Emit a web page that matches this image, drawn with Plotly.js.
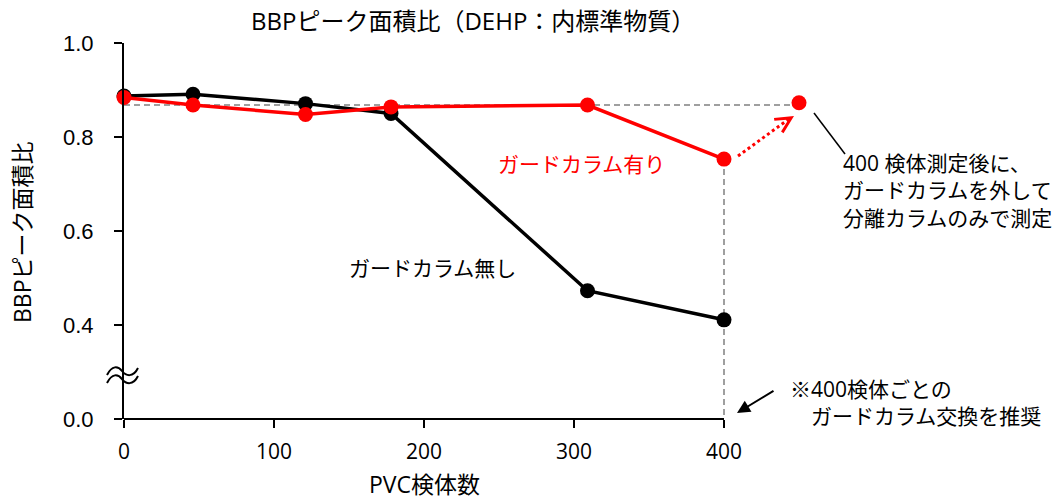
<!DOCTYPE html>
<html>
<head>
<meta charset="utf-8">
<script src="https://cdn.plot.ly/plotly-3.0.1.min.js"></script>
<style>html,body{margin:0;padding:0;background:#fff;}#chart{width:1060px;height:500px;}</style>
</head>
<body>
<div id="chart"></div>
<script>
// ---- data ----
const pvcCounts = [0, 46, 121, 178, 309, 400];
const ratioWithoutGuard = [0.887, 0.891, 0.871, 0.850, 0.473, 0.411];
const ratioWithGuard = [0.884, 0.868, 0.848, 0.864, 0.868, 0.753];
const removedGuardX = [450];
const removedGuardY = [0.873];
const referenceLevel = 0.868;
const xTickVals = [0, 100, 200, 300, 400];
const yTickVals = [0.2, 0.4, 0.6, 0.8, 1.0];
const yTickText = ['0.0', '0.4', '0.6', '0.8', '1.0'];

const titleText = 'BBPピーク面積比（DEHP：内標準物質）';
const yTitleText = 'BBPピーク面積比';
const xTitleText = 'PVC検体数';
const labelWith = 'ガードカラム有り';
const labelWithout = 'ガードカラム無し';
const noteRemoved = '400 検体測定後に、<br>ガードカラムを外して<br>分離カラムのみで測定';
const noteReplace = '※400検体ごとの<br>　ガードカラム交換を推奨';

// ---- geometry ----
const W = 1060, H = 500;
const M = {l: 124, r: 0, t: 43, b: 81};
const plotW = W - M.l - M.r, plotH = H - M.t - M.b;
const pxPerUnit = 1.5;
const xRange = [0, plotW / pxPerUnit], yRange = [0.2, 1.0];
const PX = p => (p - M.l) / plotW;
const PY = p => (H - M.b - p) / plotH;
const DX = v => (v - xRange[0]) / (xRange[1] - xRange[0]);
const DY = v => (v - yRange[0]) / (yRange[1] - yRange[0]);

const FONT = '"Open Sans", "Noto Sans CJK JP", sans-serif';
const JFONT = '"Noto Sans CJK JP", sans-serif';

function pixelPath(pts) {
  return pts.map(seg => {
    const nums = [];
    for (let i = 1; i < seg.length; i += 2) nums.push(PX(seg[i]).toFixed(5) + ',' + PY(seg[i + 1]).toFixed(5));
    return seg[0] + nums.join(' ');
  }).join(' ');
}

const traces = [
  {
    x: pvcCounts, y: ratioWithoutGuard, type: 'scatter', mode: 'lines+markers',
    line: {color: '#000000', width: 3.5}, marker: {color: '#000000', size: 15},
    cliponaxis: false, hoverinfo: 'skip'
  },
  {
    x: pvcCounts, y: ratioWithGuard, type: 'scatter', mode: 'lines+markers',
    line: {color: '#ff0000', width: 3.5}, marker: {color: '#ff0000', size: 15},
    cliponaxis: false, hoverinfo: 'skip'
  },
  {
    x: removedGuardX, y: removedGuardY, type: 'scatter', mode: 'markers',
    marker: {color: '#ff0000', size: 15}, cliponaxis: false, hoverinfo: 'skip'
  }
];

const lastX = pvcCounts[pvcCounts.length - 1];
const lastGuardY = ratioWithGuard[ratioWithGuard.length - 1];

const shapes = [
  // x axis baseline (0..400)
  {type: 'line', xref: 'paper', yref: 'paper', x0: DX(0), x1: DX(lastX), y0: 0, y1: 0,
   line: {color: '#000000', width: 2}},
  // horizontal dashed reference
  {type: 'line', xref: 'paper', yref: 'paper', x0: DX(0), x1: DX(removedGuardX[0]) - 0.008,
   y0: DY(referenceLevel), y1: DY(referenceLevel), line: {color: '#808080', width: 1.5, dash: '6px,4px'}, layer: 'below'},
  // vertical dashed at 400
  {type: 'line', xref: 'paper', yref: 'paper', x0: DX(lastX), x1: DX(lastX),
   y0: DY(lastGuardY), y1: DY(yRange[0]), line: {color: '#808080', width: 1.5, dash: '6px,4px'}, layer: 'below'},
  // red dotted shaft
  {type: 'line', xref: 'paper', yref: 'paper', x0: PX(738), y0: PY(156), x1: PX(789), y1: PY(119),
   line: {color: '#ff0000', width: 3, dash: 'dot'}},
  // leader line to note
  {type: 'line', xref: 'paper', yref: 'paper', x0: PX(814), y0: PY(113), x1: PX(845), y1: PY(154),
   line: {color: '#000000', width: 1.5}},
  // axis break marks
  {type: 'path', xref: 'paper', yref: 'paper',
   path: pixelPath([['M', 107, 375], ['C', 112, 365, 118, 366, 122, 371], ['S', 133, 378, 138, 368]]),
   line: {color: '#000000', width: 2}},
  {type: 'path', xref: 'paper', yref: 'paper',
   path: pixelPath([['M', 107, 383], ['C', 112, 373, 118, 374, 122, 379], ['S', 133, 386, 138, 376]]),
   line: {color: '#000000', width: 2}}
];

const annotations = [
  {text: titleText, xref: 'paper', yref: 'paper', x: PX(473), y: PY(21), xanchor: 'center', yanchor: 'middle',
   showarrow: false, font: {family: FONT, size: 24, color: '#000'}},
  {text: yTitleText, xref: 'paper', yref: 'paper', x: PX(22), y: PY(232), xanchor: 'center', yanchor: 'middle',
   textangle: -90, showarrow: false, font: {family: FONT, size: 23, color: '#000'}},
  {text: xTitleText, xref: 'paper', yref: 'paper', x: PX(424), y: PY(484), xanchor: 'center', yanchor: 'middle',
   showarrow: false, borderpad: 0, font: {family: FONT, size: 23, color: '#000'}},
  {text: labelWith, xref: 'paper', yref: 'paper', x: PX(581), y: PY(163), xanchor: 'center', yanchor: 'middle',
   showarrow: false, font: {family: JFONT, size: 21, color: '#ff0000'}},
  {text: labelWithout, xref: 'paper', yref: 'paper', x: PX(432), y: PY(267), xanchor: 'center', yanchor: 'middle',
   showarrow: false, font: {family: JFONT, size: 21, color: '#000'}},
  {text: noteRemoved, xref: 'paper', yref: 'paper', x: PX(841), y: PY(190), xanchor: 'left', yanchor: 'middle',
   align: 'left', showarrow: false, font: {family: FONT, size: 21, color: '#000'}},
  {text: noteReplace, xref: 'paper', yref: 'paper', x: PX(788), y: PY(402), xanchor: 'left', yanchor: 'middle',
   align: 'left', showarrow: false, font: {family: FONT, size: 21, color: '#000'}},
  // black arrow
  {text: '', xref: 'paper', yref: 'paper', x: PX(737), y: PY(413), ax: 38, ay: -23,
   showarrow: true, arrowhead: 2, arrowsize: 1.3, arrowwidth: 2, arrowcolor: '#000'},
  // red arrowhead
  {text: '', xref: 'paper', yref: 'paper', x: PX(794), y: PY(116), ax: -8, ay: 5,
   showarrow: true, arrowhead: 5, arrowsize: 1.2, arrowwidth: 2.5, arrowcolor: '#ff0000'}
];

const layout = {
  width: W, height: H, margin: M, paper_bgcolor: '#fff', plot_bgcolor: 'rgba(0,0,0,0)',
  showlegend: false,
  xaxis: {
    range: xRange, tickvals: xTickVals, showgrid: false, zeroline: false,
    showline: false,
    ticks: 'outside', ticklen: 8, tickwidth: 2, tickcolor: '#000',
    tickfont: {family: FONT, size: 21, color: '#000'}, ticklabelstandoff: 6, fixedrange: true
  },
  yaxis: {
    range: yRange, tickvals: yTickVals, ticktext: yTickText, showgrid: false, zeroline: false,
    showline: true, linecolor: '#000', linewidth: 2,
    ticks: 'outside', ticklen: 8, tickwidth: 2, tickcolor: '#000',
    tickfont: {family: '"Liberation Sans", Arial, sans-serif', size: 22, color: '#000'}, ticklabelstandoff: 16, fixedrange: true
  },
  shapes: shapes,
  annotations: annotations
};

Plotly.newPlot('chart', traces, layout, {displayModeBar: false, staticPlot: true});
</script>
</body>
</html>
